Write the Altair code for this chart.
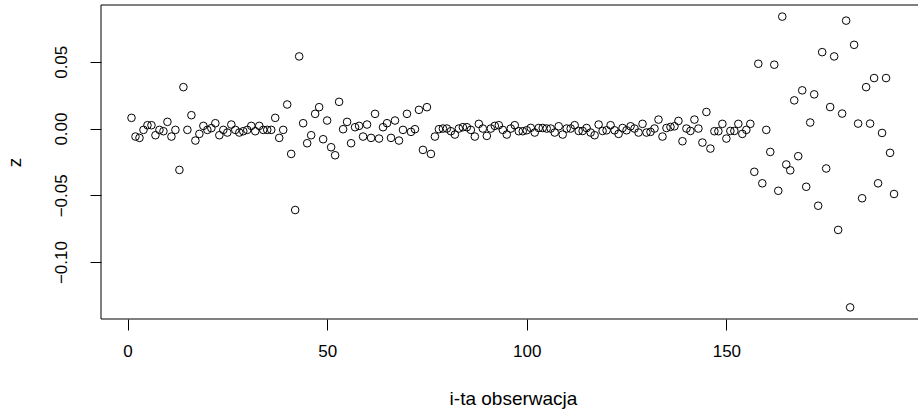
import altair as alt
import pandas as pd

z_values = [
    0.008, -0.006, -0.007, -0.001, 0.0025, 0.0025, -0.005, -0.001, -0.002, 0.005,
    -0.006, -0.001, -0.031, 0.031, -0.001, 0.010, -0.009, -0.004, 0.002, -0.001,
    0.0003, 0.004, -0.005, -0.001, -0.003, 0.003, -0.001, -0.003, -0.002, -0.001,
    0.002, -0.002, 0.002, -0.001, -0.001, -0.001, 0.008, -0.007, -0.001, 0.018,
    -0.019, -0.061, 0.054, 0.004, -0.011, -0.005, 0.011, 0.016, -0.008, 0.006,
    -0.014, -0.020, 0.020, -0.0005, 0.005, -0.011, 0.001, 0.002, -0.006, 0.003,
    -0.007, 0.011, -0.0075, 0.001, 0.004, -0.007, 0.006, -0.009, -0.001, 0.011,
    -0.0025, -0.0005, 0.014, -0.016, 0.016, -0.019, -0.006, -0.0005, 0.0, 0.0,
    -0.002, -0.0045, 0.0, 0.001, 0.001, -0.001, -0.006, 0.0035, 0.0, -0.0055,
    0.0, 0.002, 0.0025, -0.001, -0.0045, 0.0, 0.0025, -0.002, -0.002, -0.0013,
    0.0005, -0.003, 0.0004, 0.0004, 0.0, 0.0, -0.003, 0.0017, -0.0045, 0.0,
    0.0, 0.0025, -0.0018, -0.0018, 0.0004, -0.003, -0.005, 0.003, -0.0018, -0.0013,
    0.0025, -0.0013, -0.004, 0.0004, -0.0013, 0.0017, 0.0, -0.003, 0.0035, -0.003,
    -0.0025, 0.0, 0.0067, -0.006, 0.0004, 0.0012, 0.0017, 0.0057, -0.0095, 0.0,
    -0.0018, 0.0067, 0.0, -0.0105, 0.0124, -0.015, -0.002, -0.002, 0.0035, -0.0075,
    -0.0018, -0.0018, 0.0035, -0.004, -0.001, 0.0035, -0.0324, 0.0485, -0.041, -0.001,
    -0.0175, 0.0478, -0.0466, 0.0838, -0.0269, -0.0313, 0.0211, -0.0207, 0.0286, -0.0436,
    0.0045, 0.0256, -0.0578, 0.0572, -0.0299, 0.0161, 0.054, -0.0759, 0.0112, 0.0808,
    -0.1339, 0.0627, 0.0037, -0.0522, 0.031, 0.0037, 0.0378, -0.041, -0.0033, 0.0378,
    -0.0182, -0.049,
]
obs_index = list(range(1, len(z_values) + 1))
x_ticks = [0, 50, 100, 150]
y_ticks = [-0.10, -0.05, 0.00, 0.05]

df = pd.DataFrame({"i": obs_index, "z": z_values})

W, H = 817, 314
FONT = "Liberation Sans"

x_scale = alt.Scale(domain=[-6.64, 198.0], nice=False, zero=False)
y_scale = alt.Scale(domain=[-0.1426, 0.0925], nice=False, zero=False)

points = alt.Chart(df).mark_point(
    shape="circle", filled=False, size=58, strokeWidth=1, color="black", opacity=1
).encode(
    x=alt.X("i:Q", scale=x_scale, axis=alt.Axis(
        values=x_ticks, title="i-ta obserwacja", domain=False, grid=False,
        tickSize=11, tickColor="black", tickWidth=1,
        labelFont=FONT, labelFontSize=17, labelColor="black", labelPadding=13,
        labelBaseline="top",
        titleFont=FONT, titleFontSize=19, titleFontWeight="normal", titleColor="black",
        titleX=412, titleY=79, titleBaseline="middle", titleAlign="center",
    )),
    y=alt.Y("z:Q", scale=y_scale, axis=alt.Axis(
        values=y_ticks, format=".2f", title="z", domain=False, grid=False,
        tickSize=11, tickColor="black", tickWidth=1,
        labelFont=FONT, labelFontSize=17, labelColor="black", labelPadding=20,
        labelAngle=270, labelAlign="center", labelBaseline="bottom",
        titleFont=FONT, titleFontSize=19, titleFontWeight="normal", titleColor="black",
        titleAngle=270, titleX=-87, titleY=157, titleAlign="center", titleBaseline="middle",
    )),
)

frame_top = alt.Chart().mark_rule(color="black", strokeWidth=1).encode(
    x=alt.value(0), x2=alt.value(W), y=alt.value(0))
frame_bottom = alt.Chart().mark_rule(color="black", strokeWidth=1).encode(
    x=alt.value(0), x2=alt.value(W), y=alt.value(H))
frame_left = alt.Chart().mark_rule(color="black", strokeWidth=1).encode(
    x=alt.value(0), y=alt.value(0), y2=alt.value(H))

chart = alt.layer(points, frame_top, frame_bottom, frame_left).properties(
    width=W, height=H,
    autosize=alt.AutoSizeParams(type="none"),
    padding={"left": 101, "top": 5, "right": 0, "bottom": 93},
    background="white",
).configure_view(stroke=None)

chart.save("out.html", embed_options={"renderer": "svg", "actions": False})
